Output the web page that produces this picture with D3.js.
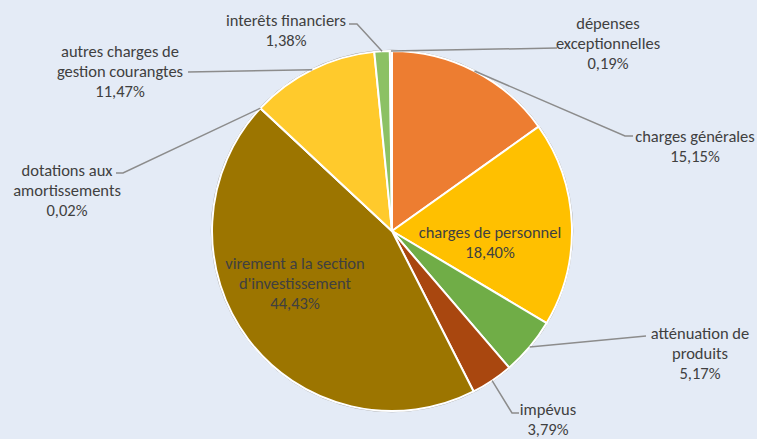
<!DOCTYPE html>
<html>
<head>
<meta charset="utf-8">
<script src="https://cdn.jsdelivr.net/npm/d3@7"></script>
<style>
  html, body { margin: 0; padding: 0; background: #e4ebf6; }
  svg { display: block; }
  text { font-family: Carlito, Calibri, "Liberation Sans Narrow", "Liberation Sans", sans-serif; font-size: 16.5px; fill: #404040; }
</style>
</head>
<body>
<svg width="757" height="439"></svg>
<script>
"use strict";

// catégories dans l'ordre du camembert (sens horaire depuis midi)
const categories = [
  "charges générales",
  "charges de personnel",
  "atténuation de produits",
  "impévus",
  "virement a la section d'investissement",
  "dotations aux amortissements",
  "autres charges de gestion courangtes",
  "interêts financiers",
  "dépenses exceptionnelles"
];
const values = [15.15, 18.40, 5.17, 3.79, 44.43, 0.02, 11.47, 1.38, 0.19];
const valueLabels = ["15,15%", "18,40%", "5,17%", "3,79%", "44,43%", "0,02%", "11,47%", "1,38%", "0,19%"];
// découpage des libellés sur plusieurs lignes
const labelLines = [
  ["charges générales"],
  ["charges de personnel"],
  ["atténuation de", "produits"],
  ["impévus"],
  ["virement a la section", "d'investissement"],
  ["dotations aux", "amortissements"],
  ["autres charges de", "gestion courangtes"],
  ["interêts financiers"],
  ["dépenses", "exceptionnelles"]
];
const colors = ["#ed7d31", "#ffc000", "#70ad47", "#a9470f", "#9c7500", "#6b5200", "#ffca2c", "#8cc164", "#f3a26c"];

// mise en page des étiquettes (centre du texte, première ligne, coude et fin du trait)
const labelLayout = [
  { x: 695, y: 136, elbow: [625, 136], end: [633, 136] },
  { x: 490, y: 232, inside: true },
  { x: 700, y: 333, elbow: [646, 336], end: [646, 336] },
  { x: 548, y: 409, elbow: [512, 413], end: [519, 413] },
  { x: 295, y: 263, inside: true },
  { x: 67, y: 170, elbow: [123, 173], end: [116, 173] },
  { x: 120, y: 51, elbow: [188, 72], end: [188, 72] },
  { x: 286, y: 20, elbow: [357, 24], end: [349, 24] },
  { x: 608, y: 23, elbow: [557, 48], end: [557, 48] }
];
const lineGap = 20;

const svg = d3.select("svg");
const cx = 392, cy = 231, radius = 180;

const pie = d3.pie().sort(null).value((d) => d);
const arcs = pie(values);
const arc = d3.arc().innerRadius(0).outerRadius(radius);

const g = svg.append("g").attr("transform", `translate(${cx},${cy})`);

// contour gris fin autour du camembert
g.append("circle")
  .attr("r", radius + 0.8)
  .style("fill", "none")
  .style("stroke", "#a6a6a6")
  .style("stroke-width", "1px");

g.selectAll("path.slice")
  .data(arcs)
  .enter()
  .append("path")
  .attr("class", "slice")
  .attr("d", arc)
  .style("fill", (d, i) => colors[i])
  .style("stroke", "#ffffff")
  .style("stroke-width", "2px")
  .style("stroke-linejoin", "round");

// traits de rappel : du bord de la part (angle médian) vers l'étiquette
arcs.forEach((d, i) => {
  const lay = labelLayout[i];
  if (lay.inside) return;
  const mid = (d.startAngle + d.endAngle) / 2;
  const p0 = [cx + radius * Math.sin(mid), cy - radius * Math.cos(mid)];
  svg.append("polyline")
    .attr("points", [p0, lay.elbow, lay.end].map((p) => p.join(",")).join(" "))
    .style("fill", "none")
    .style("stroke", "#8c8c8c")
    .style("stroke-width", "1.5px");
});

// étiquettes : nom de la catégorie + pourcentage
const labels = svg.selectAll("text.lbl")
  .data(arcs)
  .enter()
  .append("text")
  .attr("class", "lbl")
  .attr("text-anchor", "middle");

labels.each(function (d, i) {
  const lay = labelLayout[i];
  const lines = labelLines[i].concat([valueLabels[i]]);
  const t = d3.select(this);
  lines.forEach((ln, k) => {
    t.append("tspan")
      .attr("x", lay.x)
      .attr("y", lay.y + k * lineGap)
      .attr("dy", "0.35em")
      .text(ln);
  });
});
</script>
</body>
</html>
